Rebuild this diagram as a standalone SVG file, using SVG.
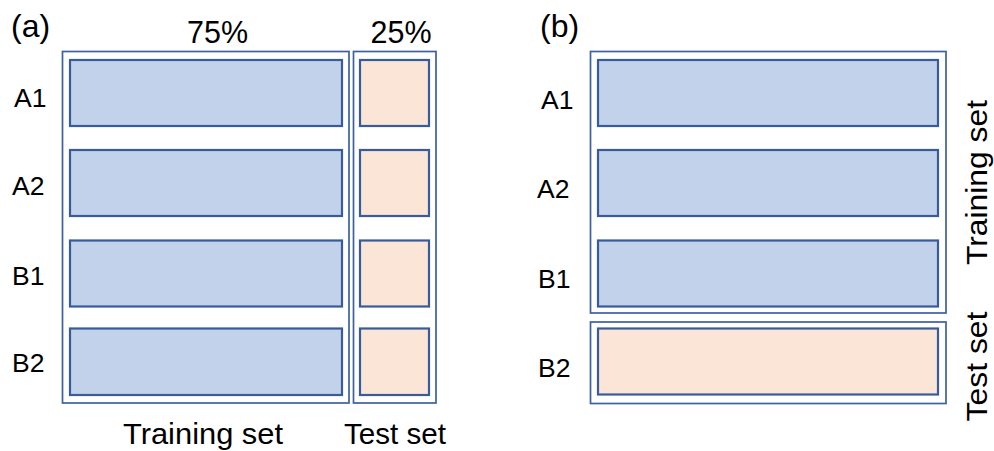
<svg xmlns="http://www.w3.org/2000/svg" width="994" height="451" viewBox="0 0 994 451">
  <style>
    .outer { fill: #ffffff; stroke: #3d609f; stroke-width: 1.7; }
    .train { fill: #c2d2eb; stroke: #385b9a; stroke-width: 2.2; }
    .test { fill: #fbe5d7; stroke: #385b9a; stroke-width: 2.2; }
    text { font-family: "Liberation Sans", Arial, sans-serif; fill: #000000; }
    .lab { font-size: 26.5px; }
    .big { font-size: 29px; }
    .pct { font-size: 30.5px; }
    .tag { font-size: 32px; }
  </style>
  <rect width="994" height="451" fill="#ffffff"/>

  <g id="panel-a">
    <text class="tag" x="11" y="37">(a)</text>
    <text class="pct" x="217.5" y="43" text-anchor="middle">75%</text>
    <text class="pct" x="401" y="43" text-anchor="middle">25%</text>

    <g id="a-training-box">
      <rect class="outer" x="62.5" y="51.5" width="286.5" height="351.5"/>
    </g>
    <g id="a-test-box">
      <rect class="outer" x="353.5" y="51.5" width="82.5" height="351.5"/>
    </g>

    <g id="a-A1">
      <text class="lab" x="14" y="107">A1</text>
      <rect class="train" x="70" y="60" width="272" height="66"/>
      <rect class="test" x="360" y="60" width="69" height="66"/>
    </g>
    <g id="a-A2">
      <text class="lab" x="12" y="195">A2</text>
      <rect class="train" x="70" y="150" width="272" height="66"/>
      <rect class="test" x="360" y="150" width="69" height="66"/>
    </g>
    <g id="a-B1">
      <text class="lab" x="12" y="285">B1</text>
      <rect class="train" x="70" y="240.5" width="272" height="66"/>
      <rect class="test" x="360" y="240.5" width="69" height="66"/>
    </g>
    <g id="a-B2">
      <text class="lab" x="12" y="372">B2</text>
      <rect class="train" x="70" y="328.5" width="272" height="66.5"/>
      <rect class="test" x="360" y="328.5" width="69" height="66.5"/>
    </g>

    <text class="big" x="203" y="444" text-anchor="middle" textLength="160" lengthAdjust="spacingAndGlyphs">Training set</text>
    <text class="big" x="395" y="444" text-anchor="middle" textLength="102" lengthAdjust="spacingAndGlyphs">Test set</text>
  </g>

  <g id="panel-b">
    <text class="tag" x="540" y="37">(b)</text>

    <g id="b-training-box">
      <rect class="outer" x="590.5" y="51.5" width="355.5" height="261.5"/>
    </g>
    <g id="b-test-box">
      <rect class="outer" x="590.5" y="322" width="355.5" height="81.5"/>
    </g>

    <g id="b-A1">
      <text class="lab" x="541" y="109">A1</text>
      <rect class="train" x="598" y="60" width="340" height="66"/>
    </g>
    <g id="b-A2">
      <text class="lab" x="537" y="198">A2</text>
      <rect class="train" x="598" y="150" width="340" height="66"/>
    </g>
    <g id="b-B1">
      <text class="lab" x="538" y="288">B1</text>
      <rect class="train" x="598" y="240.5" width="340" height="66"/>
    </g>
    <g id="b-B2">
      <text class="lab" x="538" y="377">B2</text>
      <rect class="test" x="598" y="328.5" width="340" height="66"/>
    </g>

    <text class="big" transform="translate(987 182.5) rotate(-90)" text-anchor="middle" textLength="165" lengthAdjust="spacingAndGlyphs">Training set</text>
    <text class="big" transform="translate(987 366.5) rotate(-90)" text-anchor="middle" textLength="110" lengthAdjust="spacingAndGlyphs">Test set</text>
  </g>
</svg>
